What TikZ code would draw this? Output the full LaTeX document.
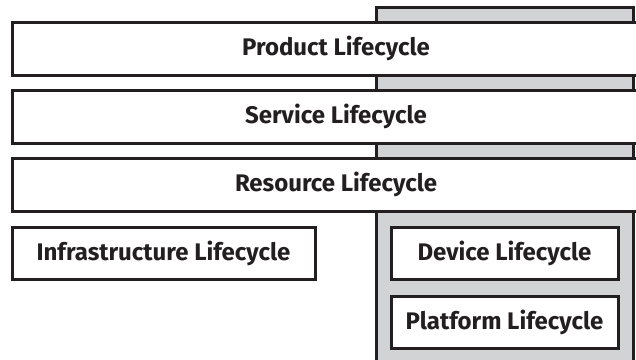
\documentclass[tikz,border=0pt]{standalone}
\usepackage{fontspec}
\setmainfont{Fira Sans}[BoldFont={Fira Sans Bold}]
\definecolor{inkline}{HTML}{231F20}
\definecolor{greyfill}{HTML}{D1D3D4}
\begin{document}
\begin{tikzpicture}[x=1pt,y=-1pt,
  box/.style={draw=inkline, line width=3pt, fill=white, inner sep=0pt,
    font=\fontsize{24}{28}\selectfont\bfseries, text=inkline},
  column/.style={draw=inkline, line width=3pt, fill=greyfill, inner sep=0pt}]
\useasboundingbox (0,0) rectangle (636,359);
\clip (0,0) rectangle (636,359);
% grey band on the right behind the layers
\node[column, minimum width=257pt, minimum height=380pt] (col) at (504.5,197) {};
% wide layers
\node[box, minimum width=648pt, minimum height=53pt] (product) at (336,48.5) {Product Lifecycle};
\node[box, minimum width=648pt, minimum height=53pt] (service) at (336,116.5) {Service Lifecycle};
\node[box, minimum width=648pt, minimum height=53pt] (resource) at (336,184.5) {Resource Lifecycle};
% lower layer
\node[box, minimum width=303pt, minimum height=52pt] (infra) at (163.5,253) {Infrastructure Lifecycle};
\node[box, minimum width=227pt, minimum height=52pt] (device) at (504.5,253) {Device Lifecycle};
\node[box, minimum width=227pt, minimum height=52pt] (platform) at (504.5,322) {Platform Lifecycle};
\end{tikzpicture}
\end{document}
